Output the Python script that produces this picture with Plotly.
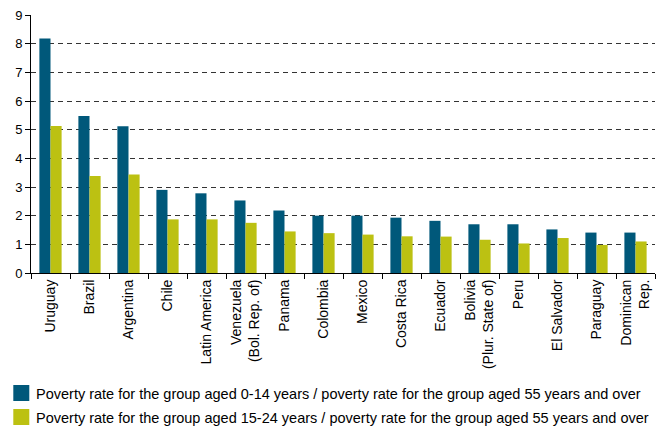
import plotly.graph_objects as go

categories = ["Uruguay", "Brazil", "Argentina", "Chile", "Latin America",
              "Venezuela<br>(Bol. Rep. of)", "Panama", "Colombia", "Mexico",
              "Costa Rica", "Ecuador", "Bolivia<br>(Plur. State of)", "Peru",
              "El Salvador", "Paraguay", "Dominican<br>Rep."]
ratio_0_14 = [8.18, 5.48, 5.12, 2.90, 2.78, 2.53, 2.18, 2.00, 2.00, 1.93,
              1.82, 1.70, 1.70, 1.52, 1.41, 1.41]
ratio_15_24 = [5.13, 3.38, 3.44, 1.87, 1.87, 1.75, 1.45, 1.39, 1.34, 1.28,
               1.27, 1.16, 1.03, 1.22, 0.98, 1.10]
series_names = [
    "Poverty rate for the group aged 0-14 years / poverty rate for the group aged 55 years and over",
    "Poverty rate for the group aged 15-24 years / poverty rate for the group aged 55 years and over",
]
y_ticks = [0, 1, 2, 3, 4, 5, 6, 7, 8, 9]

BLUE = "#00587a"
YELLOW = "#bcc112"
COLORS = [BLUE, YELLOW]

# figure geometry (page has an 8px body margin)
W, H = 657, 419
ML, MR, MT, MB = 23, 10, 7, 154
PW, PH = W - ML - MR, H - MT - MB


def px_x(fx):
    return (fx - ML) / PW


def px_y(fy):
    return (H - MB - fy) / PH


fig = go.Figure()
fig.add_trace(go.Bar(x=categories, y=ratio_0_14, name=series_names[0],
                     marker=dict(color=BLUE, line=dict(width=0))))
fig.add_trace(go.Bar(x=categories, y=ratio_15_24, name=series_names[1],
                     marker=dict(color=YELLOW, line=dict(width=0))))

# manual legend (larger square swatches like the reference)
legend_rows = [385, 409]
for name, color, cy in zip(series_names, COLORS, legend_rows):
    fig.add_shape(type="rect", xref="paper", yref="paper",
                  x0=px_x(5.3), x1=px_x(21.3), y0=px_y(cy - 8), y1=px_y(cy + 8),
                  fillcolor=color, line=dict(width=0), layer="above")
    fig.add_annotation(xref="paper", yref="paper", x=px_x(26), y=px_y(cy + 1),
                       xanchor="left", yanchor="middle", text=name, showarrow=False,
                       font=dict(size=14.5, color="black"))

fig.update_layout(
    width=W, height=H,
    margin=dict(l=ML, r=MR, t=MT, b=MB, autoexpand=False),
    paper_bgcolor="white", plot_bgcolor="white",
    font=dict(family="Liberation Sans, Arial, sans-serif", size=13, color="black"),
    barmode="group", bargap=0.43, bargroupgap=0,
    showlegend=False,
)
fig.update_yaxes(range=[0, 9], tickvals=y_ticks, ticks="outside", ticklen=5,
                 tickcolor="black", showline=True, linecolor="black", linewidth=1,
                 showgrid=True, gridcolor="#333333", griddash="5px,4px", gridwidth=1,
                 zeroline=False, tickfont=dict(size=13), ticklabeloverflow="allow")
fig.update_xaxes(tickangle=-90, ticks="outside", ticklen=5, tickcolor="black",
                 tickson="boundaries", showline=True, linecolor="black", linewidth=1,
                 showgrid=False, tickfont=dict(size=14), ticklabeloverflow="allow")

fig.write_html("out.html")
